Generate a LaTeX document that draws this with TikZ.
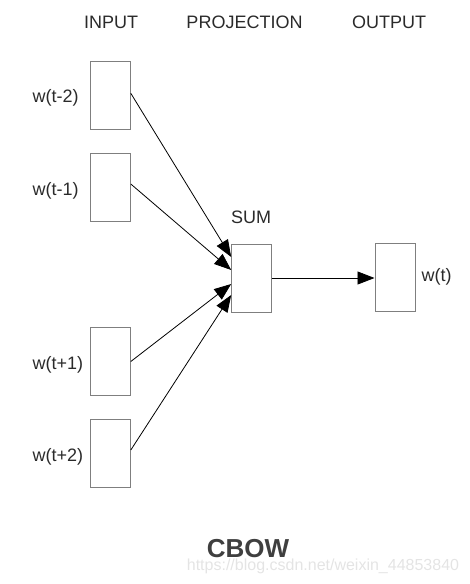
\documentclass[tikz,border=0pt]{standalone}
\usepackage{fontspec}
\setmainfont{Liberation Sans}
\usetikzlibrary{arrows.meta}
\definecolor{txt}{HTML}{2A2A2A}
\definecolor{boxc}{HTML}{7F7F7F}
\definecolor{wm}{HTML}{E4E4E4}
\tikzset{
  wbox/.style={draw=boxc, line width=1pt, minimum width=40pt, minimum height=68pt, inner sep=0pt},
  lbl/.style={inner sep=0pt, text=txt, font=\fontsize{18}{20}\selectfont},
  conn/.style={line width=0.8pt, -{Triangle[length=17pt,width=13pt]}},
}
\begin{document}
\begin{tikzpicture}[x=1pt,y=-1pt]
\useasboundingbox (0,0) rectangle (469,584);
% headers
\node[lbl, anchor=base] (hin) at (111,28.3) {INPUT};
\node[lbl, anchor=base] (hproj) at (244.5,28.3) {PROJECTION};
\node[lbl, anchor=base] (hout) at (389,28.3) {OUTPUT};
% input boxes
\node[wbox] (in1) at (110.3,95.3) {};
\node[wbox] (in2) at (110.3,187) {};
\node[wbox] (in3) at (110.3,361.5) {};
\node[wbox] (in4) at (110.3,453) {};
% labels
\node[lbl, anchor=base west] (l1) at (32.5,102.5) {w(t-2)};
\node[lbl, anchor=base west] (l2) at (32.5,195) {w(t-1)};
\node[lbl, anchor=base west] (l3) at (32.5,369.5) {w(t+1)};
\node[lbl, anchor=base west] (l4) at (32.5,461) {w(t+2)};
% sum
\node[wbox] (sum) at (251.7,278) {};
\node[lbl, anchor=base] (sl) at (251,223.3) {SUM};
% output
\node[wbox] (out) at (395,277) {};
\node[lbl, anchor=base west] (ol) at (421.5,281.7) {w(t)};
% arrows
\draw[conn] ([yshift=2pt]in1.east) -- ([yshift=21pt]sum.west);
\draw[conn] ([yshift=3pt]in2.east) -- ([yshift=8pt]sum.west);
\draw[conn] (in3.east) -- ([yshift=-6pt]sum.west);
\draw[conn] ([yshift=3pt]in4.east) -- ([yshift=-17pt]sum.west);
\draw[conn] (sum.east) -- (sum.east -| out.west);
% title
\node[inner sep=0pt, anchor=base, text=txt!90!white, font=\bfseries\fontsize{26}{30}\selectfont] (title) at (248,557.3) {CBOW};
\node[inner sep=0pt, anchor=base, text=wm, font=\fontsize{16}{18}\selectfont] (wmk) at (323,570.7) {https://blog.csdn.net/weixin\_44853840};
\end{tikzpicture}
\end{document}
